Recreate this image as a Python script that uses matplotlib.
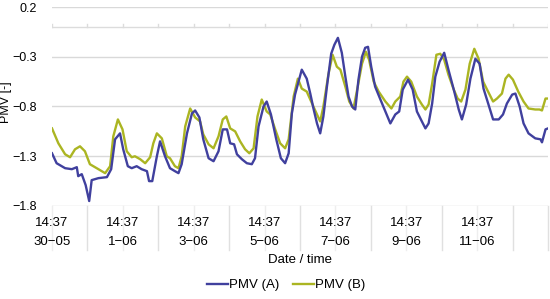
import matplotlib
matplotlib.use("Agg")
import matplotlib.pyplot as plt
import matplotlib.transforms as mtransforms
import numpy as np

plt.rcParams["font.family"] = ["Liberation Sans", "DejaVu Sans"]
plt.rcParams["font.size"] = 9

# time in days since 30-05 14:37
t_a = [0.00, 0.13, 0.37, 0.56, 0.70, 0.74, 0.84, 0.95, 1.05, 1.12, 1.31, 1.55, 1.67,
       1.78, 1.92, 2.01, 2.14, 2.25, 2.39, 2.53, 2.68, 2.74, 2.83, 2.96, 3.05, 3.19,
       3.33, 3.47, 3.57, 3.66, 3.81, 3.95, 4.04, 4.16, 4.27, 4.42, 4.56, 4.70, 4.82,
       4.94, 5.03, 5.14, 5.22, 5.36, 5.50, 5.64, 5.73, 5.83, 5.97, 6.06, 6.18, 6.33,
       6.46, 6.58, 6.68, 6.77, 6.86, 7.05, 7.19, 7.29, 7.38, 7.48, 7.57, 7.66, 7.76,
       7.88, 7.97, 8.07, 8.18, 8.28, 8.37, 8.47, 8.56, 8.65, 8.75, 8.84, 8.92, 9.01,
       9.12, 9.27, 9.41, 9.55, 9.69, 9.80, 9.90, 10.05, 10.18, 10.30, 10.44, 10.54,
       10.63, 10.73, 10.82, 10.94, 11.07, 11.19, 11.34, 11.48, 11.57, 11.69, 11.81,
       11.95, 12.07, 12.18, 12.32, 12.45, 12.61, 12.73, 12.84, 12.99, 13.08, 13.20,
       13.31, 13.45, 13.64, 13.79, 13.83, 13.93, 14.00]
pmv_a = [-1.27, -1.37, -1.42, -1.43, -1.41, -1.50, -1.48, -1.59, -1.75, -1.54, -1.52,
         -1.51, -1.43, -1.13, -1.07, -1.23, -1.40, -1.42, -1.40, -1.43, -1.45, -1.55,
         -1.55, -1.30, -1.15, -1.30, -1.42, -1.45, -1.47, -1.38, -1.07, -0.87, -0.84,
         -0.91, -1.13, -1.32, -1.35, -1.25, -1.03, -1.03, -1.17, -1.18, -1.28, -1.33,
         -1.37, -1.38, -1.32, -1.00, -0.80, -0.75, -0.88, -1.13, -1.32, -1.37, -1.27,
         -0.87, -0.68, -0.43, -0.52, -0.67, -0.82, -0.97, -1.07, -0.90, -0.60, -0.27,
         -0.18, -0.11, -0.26, -0.50, -0.70, -0.80, -0.83, -0.53, -0.30, -0.21, -0.20,
         -0.40, -0.60, -0.73, -0.85, -0.97, -0.88, -0.85, -0.63, -0.53, -0.63, -0.85,
         -0.95, -1.02, -0.97, -0.77, -0.50, -0.35, -0.26, -0.43, -0.63, -0.83, -0.93,
         -0.78, -0.52, -0.32, -0.37, -0.62, -0.78, -0.93, -0.93, -0.88, -0.77, -0.68,
         -0.67, -0.80, -0.97, -1.07, -1.12, -1.13, -1.16, -1.03, -1.02]

t_b = [0.00, 0.18, 0.37, 0.51, 0.65, 0.79, 0.93, 1.07, 1.31, 1.50, 1.64, 1.73, 1.86,
       1.99, 2.11, 2.25, 2.34, 2.49, 2.63, 2.77, 2.86, 2.96, 3.10, 3.24, 3.33, 3.47,
       3.57, 3.66, 3.76, 3.90, 4.04, 4.18, 4.27, 4.42, 4.56, 4.70, 4.82, 4.92, 5.03,
       5.17, 5.31, 5.45, 5.57, 5.69, 5.80, 5.92, 6.06, 6.16, 6.30, 6.44, 6.58, 6.68,
       6.82, 6.94, 7.05, 7.19, 7.34, 7.48, 7.57, 7.66, 7.80, 7.92, 8.04, 8.14, 8.28,
       8.39, 8.51, 8.63, 8.75, 8.86, 8.95, 9.08, 9.22, 9.41, 9.58, 9.69, 9.83, 9.92,
       10.02, 10.14, 10.30, 10.44, 10.54, 10.63, 10.73, 10.85, 10.96, 11.07, 11.19,
       11.34, 11.45, 11.55, 11.67, 11.79, 11.92, 12.04, 12.17, 12.28, 12.45, 12.56,
       12.70, 12.80, 12.89, 13.01, 13.16, 13.31, 13.45, 13.64, 13.76, 13.83, 13.93,
       14.00]
pmv_b = [-1.02, -1.17, -1.28, -1.31, -1.23, -1.20, -1.25, -1.38, -1.43, -1.47, -1.40,
         -1.10, -0.93, -1.03, -1.25, -1.31, -1.30, -1.33, -1.37, -1.31, -1.17, -1.07,
         -1.12, -1.30, -1.32, -1.40, -1.42, -1.30, -1.00, -0.82, -0.91, -0.95, -1.08,
         -1.18, -1.22, -1.10, -0.93, -0.90, -1.02, -1.05, -1.15, -1.23, -1.27, -1.22,
         -0.90, -0.73, -0.85, -0.88, -1.03, -1.17, -1.22, -1.13, -0.70, -0.52, -0.62,
         -0.65, -0.77, -0.88, -0.95, -0.80, -0.48, -0.28, -0.40, -0.43, -0.60, -0.75,
         -0.82, -0.60, -0.37, -0.25, -0.33, -0.55, -0.65, -0.75, -0.82, -0.75, -0.70,
         -0.55, -0.50, -0.55, -0.70, -0.78, -0.83, -0.78, -0.57, -0.28, -0.27, -0.33,
         -0.48, -0.63, -0.72, -0.75, -0.63, -0.37, -0.22, -0.32, -0.55, -0.63, -0.75,
         -0.72, -0.67, -0.52, -0.48, -0.53, -0.65, -0.75, -0.82, -0.83, -0.83, -0.84,
         -0.72, -0.72]

label_days = [0, 2, 4, 6, 8, 10, 12]
label_dates = ["30−05", "1−06", "3−06", "5−06", "7−06", "9−06", "11−06"]
label_time = "14:37"
y_ticks = [-1.8, -1.3, -0.8, -0.3, 0.2]
n_days = 14

fig = plt.figure(figsize=(5.5, 2.99), dpi=100)
ax = fig.add_axes([52 / 550, 1 - 206 / 299, 496 / 550, 199 / 299])

ax.set_xlim(0, n_days)
ax.set_ylim(-1.8, 0.2)
ax.set_yticks(y_ticks)
ax.set_yticklabels([f"{v:.1f}".replace("-", "−") for v in y_ticks])
ax.yaxis.grid(True, color="#d9d9d9", lw=1)
ax.set_axisbelow(True)
for s in ax.spines.values():
    s.set_visible(False)
ax.tick_params(axis="y", length=0, pad=11, labelsize=9)

# category axis crossing at 0 with small upward ticks
ax.axhline(0, color="#dcdcdc", lw=1, zorder=1)
for d in range(n_days + 1):
    ax.plot([d, d], [0, 0.03], color="#dcdcdc", lw=1, zorder=1)

# separators below the plot (lighter where they run through the labels)
trans = mtransforms.blended_transform_factory(ax.transData, ax.transAxes)
for d in range(n_days + 1):
    col = "#eeeeee" if d in label_days else "#e0e0e0"
    ax.plot([d, d], [0, -44 / 199], color=col, lw=1, transform=trans,
            clip_on=False, zorder=0)

ax.set_xticks(label_days)
ax.set_xticklabels([f"{label_time}\n{dt}" for dt in label_dates], linespacing=1.8)
ax.tick_params(axis="x", length=0, pad=8, labelsize=9.5)

ax.plot(t_a, pmv_a, color="#40409e", lw=1.7, label="PMV (A)", zorder=3)
ax.plot(t_b, pmv_b, color="#abb522", lw=1.7, label="PMV (B)", zorder=2)

fig.text(300 / 550, 1 - 260 / 299, "Date / time", ha="center", va="center", fontsize=9.5)
fig.text(6 / 550, 1 - 102 / 299, "PMV [-]", rotation=90, ha="center", va="center",
         fontsize=9)

handles, labels = ax.get_legend_handles_labels()
fig.legend(handles, labels, loc="center", bbox_to_anchor=(286 / 550, 1 - 285 / 299),
           ncol=2, frameon=False, fontsize=9.5, handlelength=1.6, handletextpad=0.1,
           columnspacing=1.0)

fig.savefig("out.png", dpi=100)
